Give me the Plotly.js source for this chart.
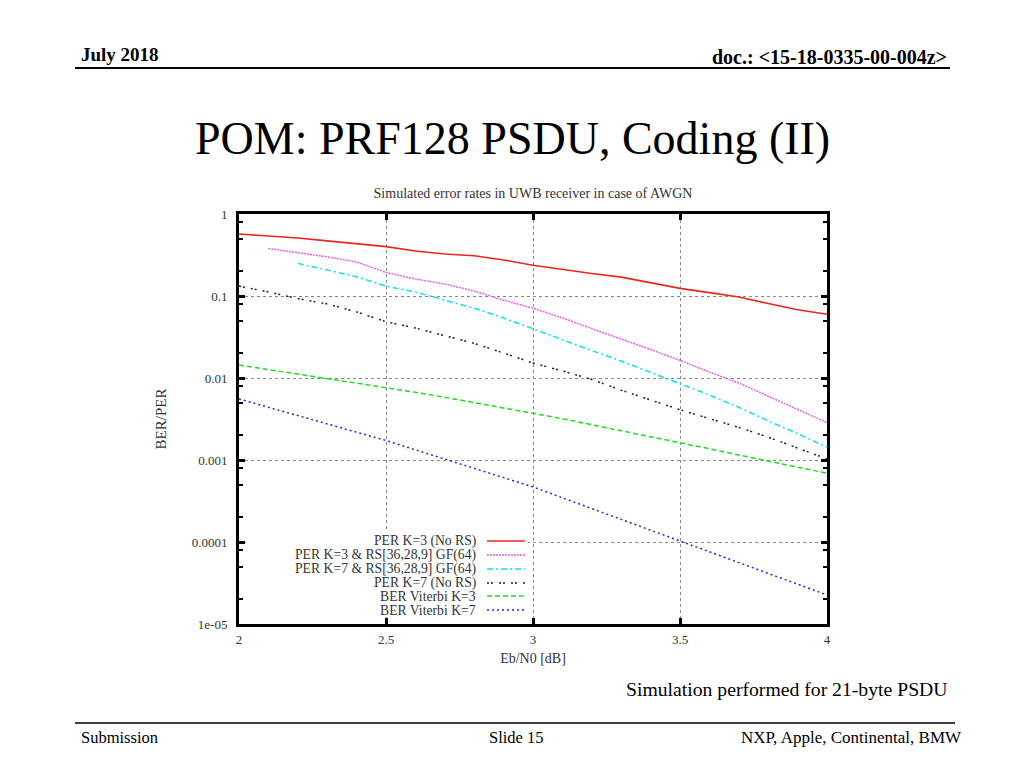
<!DOCTYPE html>
<html><head><meta charset="utf-8">
<script src="https://cdn.plot.ly/plotly-3.0.1.min.js"></script>
<style>html,body{margin:0;padding:0;background:#fff;}#chart{width:1024px;height:768px;}</style>
</head><body><div id="chart"></div>
<script>
// Eb/N0 [dB]
const ebn0 = [2.0,2.1,2.2,2.3,2.4,2.5,2.6,2.7,2.8,2.9,3.0,3.1,3.2,3.3,3.4,3.5,3.6,3.7,3.8,3.9,4.0];
// PER K=3 (No RS)
const perK3 = [0.57,0.54,0.51,0.47,0.43,0.40,0.354,0.325,0.31,0.275,0.237,0.21,0.188,0.17,0.146,0.124,0.11,0.097,0.081,0.068,0.060];
// PER K=3 & RS[36,28,9] GF(64)
const perK3RS = [null,0.38,0.34,0.30,0.26,0.194,0.161,0.14,0.115,0.089,0.071,0.054,0.040,0.030,0.0223,0.0164,0.0118,0.0087,0.0060,0.0042,0.00286];
// PER K=7 & RS[36,28,9] GF(64)
const perK7RS = [null,null,0.25,0.207,0.172,0.132,0.112,0.089,0.071,0.054,0.0396,0.029,0.0216,0.0161,0.0118,0.0086,0.0062,0.0044,0.0030,0.0021,0.00143];
// PER K=7 (No RS)
const perK7 = [0.132,0.112,0.093,0.080,0.064,0.0486,0.0407,0.0325,0.0264,0.0202,0.0152,0.0122,0.0096,0.0071,0.0054,0.0041,0.0032,0.0025,0.0019,0.0014,0.00103];
// BER Viterbi K=3
const berK3 = [0.0144,0.0127,0.0112,0.0099,0.00874,0.0077,0.0067,0.00582,0.00502,0.00435,0.00377,0.00319,0.00269,0.00228,0.00192,0.00163,0.00137,0.00115,0.00097,0.00082,0.00069];
// BER Viterbi K=7
const berK7 = [0.00555,0.0044,0.00348,0.00276,0.00218,0.00173,0.00133,0.00103,0.00079,0.00061,0.00047,0.000346,0.000255,0.000189,0.000139,0.000103,0.000076,0.000056,0.0000414,0.0000306,0.0000226];

const seriesNames = ["PER K=3 (No RS)","PER K=3 & RS[36,28,9] GF(64)","PER K=7 & RS[36,28,9] GF(64)","PER K=7 (No RS)","BER Viterbi K=3","BER Viterbi K=7"];
const seriesData = [perK3, perK3RS, perK7RS, perK7, berK3, berK7];

const yTickVals = [1,0.1,0.01,0.001,0.0001,0.00001];
const yTickText = ["1","0.1","0.01","0.001","0.0001","1e-05"];
const xTickVals = [2,2.5,3,3.5,4];
const xTickText = ["2","2.5","3","3.5","4"];

// styles (kept apart from data)
const styles = [
  {color:"#e8281f", dash:"solid", width:1.6},
  {color:"#e860e8", dash:"2px,1px", width:1.5},
  {color:"#10e0e8", dash:"6px,3px,2px,3px", width:1.5},
  {color:"#222222", dash:"2px,2px,2px,6px", width:1.5},
  {color:"#22dd22", dash:"5px,3px", width:1.5},
  {color:"#2828d0", dash:"2px,3px", width:1.5}
];

const L = 239, R = 827, T = 214, B = 624;
const px = v => (v - L) / (R - L);
const py = v => (B - v) / (B - T);

const traces = seriesData.map((d, i) => ({
  x: ebn0, y: d, name: seriesNames[i], type: "scatter", mode: "lines",
  line: {color: styles[i].color, dash: styles[i].dash, width: styles[i].width},
  connectgaps: false, showlegend: false, hoverinfo: "x+y+name"
}));

const minorVals = [];
for (let e = 0; e >= -5; e--) {
  [2,5,8].forEach(m => { const v = m * Math.pow(10, e - 1); if (v > 0.00001 && v < 1) minorVals.push(v); });
}

const serif = "Liberation Serif, Times New Roman, serif";
const annotations = [];
const shapes = [];

// opaque legend box (hides gridlines like the original key)
shapes.push({type:"rect", xref:"paper", yref:"paper", x0: px(246), x1: px(528), y0: py(617), y1: py(532),
  fillcolor:"#fff", line:{width:0}, layer:"above"});

// legend (drawn as text + sample lines, right aligned like the original)
const legTextRight = 478, legLineX0 = 487, legLineX1 = 525;
const legRows = [541, 555, 569, 583, 596, 610];
seriesNames.forEach((n, i) => {
  annotations.push({xref:"paper", yref:"paper", x: px(legTextRight), y: py(legRows[i]), text: n,
    showarrow:false, xanchor:"right", yanchor:"middle", font:{family:serif, size:13.7, color:"#333"}});
  shapes.push({type:"line", xref:"paper", yref:"paper", x0: px(legLineX0), x1: px(legLineX1),
    y0: py(legRows[i]), y1: py(legRows[i]), line:{color: styles[i].color, dash: styles[i].dash, width: styles[i].width}});
});

// slide decoration
annotations.push({xref:"paper", yref:"paper", x: px(79), y: py(54), text:"<b>July 2018</b>", showarrow:false,
  xanchor:"left", yanchor:"middle", font:{family:serif, size:19, color:"#000"}});
annotations.push({xref:"paper", yref:"paper", x: px(949), y: py(57), text:"<b>doc.: &lt;15-18-0335-00-004z&gt;</b>", showarrow:false,
  xanchor:"right", yanchor:"middle", font:{family:serif, size:20, color:"#000"}});
annotations.push({xref:"paper", yref:"paper", x: px(512), y: py(138), text:"POM: PRF128 PSDU, Coding (II)", showarrow:false,
  xanchor:"center", yanchor:"middle", font:{family:serif, size:46, color:"#000"}});
annotations.push({xref:"paper", yref:"paper", x: px(950), y: py(689), text:"Simulation performed for 21-byte PSDU", showarrow:false,
  xanchor:"right", yanchor:"middle", font:{family:serif, size:19.7, color:"#000"}});
annotations.push({xref:"paper", yref:"paper", x: px(79), y: py(737), text:"Submission", showarrow:false,
  xanchor:"left", yanchor:"middle", font:{family:serif, size:16.5, color:"#000"}});
annotations.push({xref:"paper", yref:"paper", x: px(516), y: py(737), text:"Slide 15", showarrow:false,
  xanchor:"center", yanchor:"middle", font:{family:serif, size:16.5, color:"#000"}});
annotations.push({xref:"paper", yref:"paper", x: px(964), y: py(737), text:"NXP, Apple, Continental, BMW", showarrow:false,
  xanchor:"right", yanchor:"middle", font:{family:serif, size:17, color:"#000"}});
shapes.push({type:"line", xref:"paper", yref:"paper", x0: px(75), x1: px(950), y0: py(68), y1: py(68), line:{color:"#000", width:2}});
shapes.push({type:"line", xref:"paper", yref:"paper", x0: px(75), x1: px(955), y0: py(723), y1: py(723), line:{color:"#000", width:1.5}});

const axisCommon = {
  showline:true, linecolor:"#000", linewidth:3, mirror:"allticks",
  ticks:"inside", ticklen:6, tickwidth:3, tickcolor:"#000",
  showgrid:true, gridcolor:"#888", gridwidth:1, griddash:"dot",
  zeroline:false, tickfont:{family:serif, size:13, color:"#333"}
};

const layout = {
  width:1024, height:768, paper_bgcolor:"#fff", plot_bgcolor:"#fff",
  margin:{l:L, r:1024-R, t:T, b:768-B, pad:0},
  title:{text:"Simulated error rates in UWB receiver in case of AWGN", x:0.5, xref:"paper",
    y:1-193/768, yref:"container", xanchor:"center", yanchor:"middle", font:{family:serif, size:14, color:"#333"}},
  xaxis: Object.assign({}, axisCommon, {range:[2,4], tickvals:xTickVals, ticktext:xTickText, ticklabelstandoff:1,
    title:{text:"Eb/N0 [dB]", standoff:8, font:{family:serif, size:14, color:"#333"}}}),
  yaxis: Object.assign({}, axisCommon, {type:"log", range:[-5,0], tickvals:yTickVals, ticktext:yTickText, ticklabelstandoff:6,
    minor:{tickvals:minorVals, ticks:"inside", ticklen:4, tickwidth:2, tickcolor:"#000", showgrid:false},
    title:{text:"BER/PER", standoff:22, font:{family:serif, size:15, color:"#333"}}}),
  showlegend:false, annotations: annotations, shapes: shapes
};

Plotly.newPlot("chart", traces, layout, {displayModeBar:false, staticPlot:true});
</script>
</body></html>
